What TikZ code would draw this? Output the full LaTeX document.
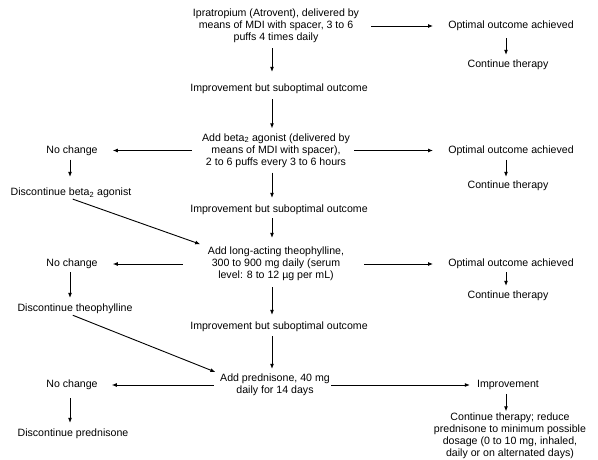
\documentclass[tikz,border=0pt]{standalone}
\usepackage{fontspec}
\setmainfont{Liberation Sans}
\usetikzlibrary{arrows.meta}
\begin{document}
\begin{tikzpicture}[x=1pt,y=-1pt,
  lbl/.style={inner sep=0pt, align=center, font=\fontsize{10.6}{12}\selectfont},
  arr/.style={-{Latex[length=5pt,width=4pt]}, line width=0.9pt},
  ln/.style={line width=0.9pt}]
\useasboundingbox[fill=white] (0,0) rectangle (598,460);
% spines
\coordinate (cs) at (272,0);
\coordinate (rs) at (506,0);
\coordinate (ls) at (70,0);
% nodes
\node[lbl] (ip) at (276,26) {Ipratropium (Atrovent), delivered by\\means of MDI with spacer, 3 to 6\\puffs 4 times daily};
\node[lbl] (opt1) at (511,26) {Optimal outcome achieved};
\node[lbl] (ct1) at (508,65) {Continue therapy};
\node[lbl] (imp1) at (279,89) {Improvement but suboptimal outcome};
\node[lbl] (beta) at (276,150.5) {Add beta\textsubscript{2} agonist (delivered by\\means of MDI with spacer),\\2 to 6 puffs every 3 to 6 hours};
\node[lbl] (nc1) at (72,150.5) {No change};
\node[lbl] (opt2) at (511,150.5) {Optimal outcome achieved};
\node[lbl] (ct2) at (508,186) {Continue therapy};
\node[lbl] (disc1) at (71,193) {Discontinue beta\textsubscript{2} agonist};
\node[lbl] (imp2) at (279,210) {Improvement but suboptimal outcome};
\node[lbl] (theo) at (276,264) {Add long-acting theophylline,\\300 to 900 mg daily (serum\\level: 8 to 12 µg per mL)};
\node[lbl] (nc2) at (72,264) {No change};
\node[lbl] (opt3) at (511,264) {Optimal outcome achieved};
\node[lbl] (ct3) at (508,296) {Continue therapy};
\node[lbl] (disc2) at (75,309) {Discontinue theophylline};
\node[lbl] (imp3) at (279,327) {Improvement but suboptimal outcome};
\node[lbl] (pred) at (275,385) {Add prednisone, 40 mg\\daily for 14 days};
\node[lbl] (nc3) at (72,385) {No change};
\node[lbl] (impr) at (508,385) {Improvement};
\node[lbl] (ctr) at (510,435.5) {Continue therapy; reduce\\prednisone to minimum possible\\dosage (0 to 10 mg, inhaled,\\daily or on alternated days)};
\node[lbl] (disc3) at (73,434) {Discontinue prednisone};
% central column
\draw[arr, shorten <=5pt, shorten >=12pt] (ip.south -| cs) -- (imp1.north -| cs);
\draw[arr, shorten <=5pt, shorten >=5pt] (imp1.south -| cs) -- (beta.north -| cs);
\draw[arr, shorten <=5pt, shorten >=7pt] (beta.south -| cs) -- (imp2.north -| cs);
\draw[arr, shorten <=3pt, shorten >=9pt] (imp2.south -| cs) -- (theo.north -| cs);
\draw[arr, shorten <=6pt, shorten >=7pt] (theo.south -| cs) -- (imp3.north -| cs);
\draw[arr, shorten <=4pt, shorten >=5pt] (imp3.south -| cs) -- (pred.north -| cs);
% right branches
\draw[arr, shorten <=12pt, shorten >=15pt] (ip) -- (opt1);
\draw[arr, shorten <=4pt, shorten >=15pt] (beta) -- (opt2);
\draw[arr, shorten <=20pt, shorten >=15pt] (theo) -- (opt3);
\draw[arr, shorten <=1pt, shorten >=7pt] (pred) -- (impr);
\draw[arr, shorten <=7pt, shorten >=5pt] (opt1.south -| rs) -- (ct1.north -| rs);
\draw[arr, shorten <=4pt, shorten >=4pt] (opt2.south -| rs) -- (ct2.north -| rs);
\draw[arr, shorten <=3pt, shorten >=5pt] (opt3.south -| rs) -- (ct3.north -| rs);
\draw[arr, shorten <=4pt, shorten >=1pt] (impr.south -| rs) -- (ctr.north -| rs);
% left branches
\draw[arr, shorten <=10pt, shorten >=15pt] (beta) -- (nc1);
\draw[arr, shorten <=25pt, shorten >=15pt] (theo) -- (nc2);
\draw[arr, shorten <=6pt, shorten >=14pt] (pred) -- (nc3);
\draw[arr, shorten <=4pt, shorten >=11pt] (nc1.south -| ls) -- (disc1.north -| ls);
\draw[arr, shorten <=3pt, shorten >=6pt] (nc2.south -| ls) -- (disc2.north -| ls);
\draw[arr, shorten <=8pt, shorten >=6pt] (nc3.south -| ls) -- (disc3.north -| ls);
% diagonals back into the main column
\draw[arr, shorten <=3pt, shorten >=8pt] (disc1.south -| ls) -- (theo.north west);
\draw[arr, shorten <=3pt, shorten >=5pt] (disc2.south -| ls) -- (pred.north west);
\end{tikzpicture}
\end{document}
